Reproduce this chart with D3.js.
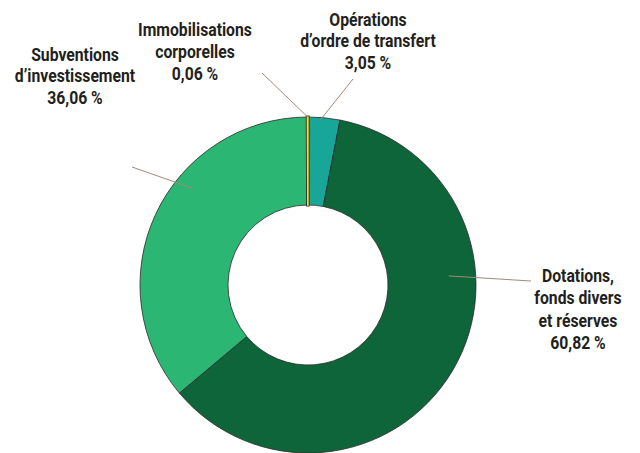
<!DOCTYPE html>
<html>
<head>
<meta charset="utf-8">
<script src="https://cdn.jsdelivr.net/npm/d3@7"></script>
<style>
  body { margin: 0; background: #fff; }
  svg text { font-family: Roboto, "Noto Sans", sans-serif; font-weight: bold; fill: #231f20; }
</style>
</head>
<body>
<svg width="640" height="453"></svg>
<script>
// valeurs en %, dans l'ordre horaire à partir de midi
var categories = ["Opérations d’ordre de transfert", "Dotations, fonds divers et réserves", "Subventions d’investissement", "Immobilisations corporelles"];
var values = [3.05, 60.82, 36.06, 0.06];
var valueLabels = ["3,05 %", "60,82 %", "36,06 %", "0,06 %"];
var labelLines = [
    ["Opérations", "d’ordre de transfert"],
    ["Dotations,", "fonds divers", "et réserves"],
    ["Subventions", "d’investissement"],
    ["Immobilisations", "corporelles"]
];
var colors = ["#17a697", "#0e6539", "#2cb673", "#f0e31c"];

var svg = d3.select("svg"),
    cx = 308, cy = 285,
    outerR = 168, innerR = 80,
    sx = 0.9; // police resserrée

// placement des étiquettes : texte (centre, 1re ligne de base), bout du trait
// f = position dans la part, r = rayon du point intérieur du trait
var layout = [
    {tx: 368, ty: 26, lh: 21.5, ox: 353, oy: 79, f: 0.38, r: 165},
    {tx: 578, ty: 282, lh: 22.5, ox: 531, oy: 281, f: 0.344, r: 141},
    {tx: 75, ty: 61, lh: 21.5, ox: 132, oy: 167, f: 0.617, r: 150},
    {tx: 195, ty: 36, lh: 22, ox: 262, oy: 73, f: 0.5, r: 168}
];

var pie = d3.pie().sort(null).value(function(d) { return d; });
var arcs = pie(values);

var arc = d3.arc().innerRadius(innerR).outerRadius(outerR);

var g = svg.append("g").attr("transform", "translate(" + cx + "," + cy + ")");

g.selectAll("path.slice")
    .data(arcs)
    .enter().append("path")
    .attr("class", "slice")
    .attr("d", arc)
    .attr("fill", function(d, i) { return colors[i]; })
    .attr("stroke", "#2b2b2b")
    .attr("stroke-width", 0.8);

// la toute petite part : bordée de noir pour rester visible
var tiny = arcs[3];
g.append("path").attr("d", arc(tiny))
    .attr("fill", "none").attr("stroke", "#2b2b2b").attr("stroke-width", 3.2);
g.append("path").attr("d", arc(tiny))
    .attr("fill", colors[3]).attr("stroke", colors[3]).attr("stroke-width", 1.4);

// traits de rappel
g.selectAll("line.leader")
    .data(arcs)
    .enter().append("line")
    .attr("class", "leader")
    .attr("x1", function(d, i) {
        var L = layout[i], a = d.startAngle + L.f * (d.endAngle - d.startAngle);
        return Math.sin(a) * L.r;
    })
    .attr("y1", function(d, i) {
        var L = layout[i], a = d.startAngle + L.f * (d.endAngle - d.startAngle);
        return -Math.cos(a) * L.r;
    })
    .attr("x2", function(d, i) { return layout[i].ox - cx; })
    .attr("y2", function(d, i) { return layout[i].oy - cy; })
    .attr("stroke", "#9e8b7c")
    .attr("stroke-width", 1);

// étiquettes
var labels = svg.selectAll("text.label")
    .data(categories)
    .enter().append("text")
    .attr("class", "label")
    .attr("text-anchor", "middle")
    .attr("transform", "scale(" + sx + ",1)")
    .style("font-size", "17.5px");

labels.each(function(d, i) {
    var t = d3.select(this), L = layout[i];
    labelLines[i].concat([valueLabels[i]]).forEach(function(s, k) {
        t.append("tspan")
            .attr("x", L.tx / sx)
            .attr("y", L.ty + k * L.lh)
            .text(s);
    });
});
</script>
</body>
</html>
